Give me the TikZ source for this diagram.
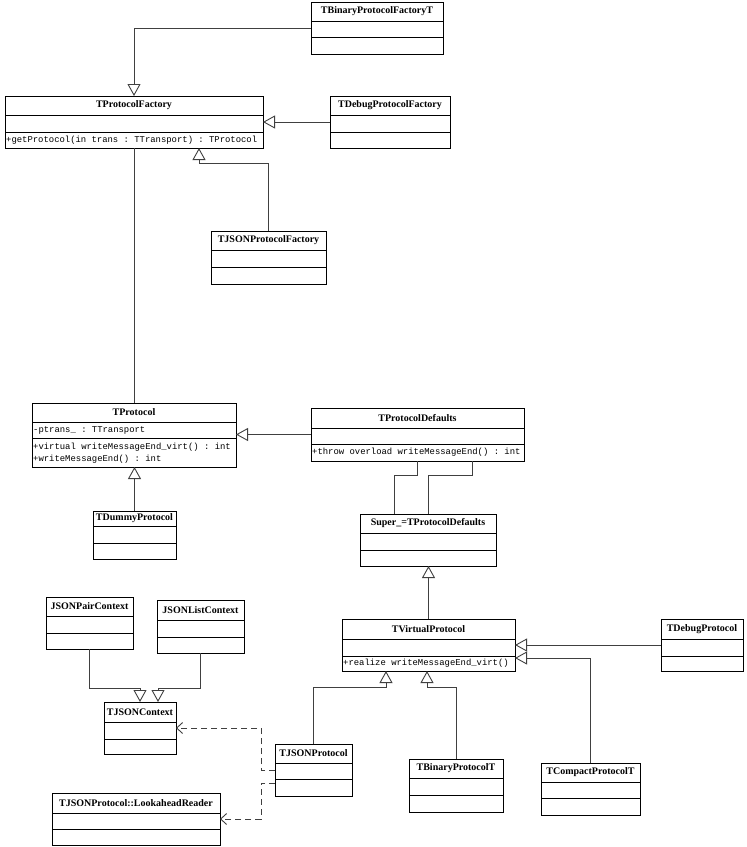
\documentclass[tikz,border=0pt]{standalone}
\usepackage{fontspec}
\setmainfont{Liberation Serif}
\setmonofont{Liberation Mono}
\usetikzlibrary{arrows.meta}

% osztaly doboz: nev, x1, y1, x2, y2, 1. vonal, 2. vonal, cim
\newcommand{\umlclass}[8]{%
	\node[classbox, minimum width={(#4-#2)*1pt}, minimum height={(#5-#3)*1pt}, anchor=north west] (#1) at (#2,#3) {};
	\draw[line width=0.9pt] (#2,#6) -- (#4,#6) (#2,#7) -- (#4,#7);
	\node[classname] (#1-name) at ({(#2+#4)/2},{(#3+#6)/2}) {#8};
}

\begin{document}
\begin{tikzpicture}[x=1pt, y=-1pt,
		classbox/.style={draw, line width=0.9pt, inner sep=0pt, outer sep=0pt},
		classname/.style={font=\bfseries\fontsize{10}{12}\selectfont, inner sep=0pt},
		member/.style={font=\ttfamily\fontsize{8.9}{12}\selectfont, inner sep=0pt, anchor=west, align=left},
		link/.style={draw=black!75, line width=0.9pt},
		gen/.style={link, -{Triangle[open, length=12pt, width=13pt, fill=white]}},
		dep/.style={link, dash pattern=on 6pt off 4pt, -{Straight Barb[length=6pt, width=11pt]}}]
				\useasboundingbox (0,0) rectangle (747,847);
				
				% gyarak
				\umlclass{bpft}{311}{2}{443}{54}{21}{37}{TBinaryProtocolFactoryT}
				\umlclass{pfact}{5}{96}{263}{148}{115}{132}{TProtocolFactory}
				\umlclass{dpfact}{330}{96}{450}{148}{115}{132}{TDebugProtocolFactory}
				\umlclass{jpfact}{211}{231}{326}{284}{250}{267}{TJSONProtocolFactory}
				\node[member] (pfact-op) at (6,140) {+getProtocol(in trans : TTransport) : TProtocol};
				
				% protokollok
				\umlclass{proto}{32}{403}{236}{467}{422}{438}{TProtocol}
				\umlclass{defs}{311}{408}{524}{461}{428}{444}{TProtocolDefaults}
				\umlclass{dummy}{93}{511}{176}{559}{526}{543}{TDummyProtocol}
				\umlclass{super}{360}{514}{496}{566}{533}{550}{Super\_=TProtocolDefaults}
				\umlclass{virt}{342}{619}{515}{671}{639}{656}{TVirtualProtocol}
				\umlclass{dbgp}{661}{619}{743}{671}{639}{656}{TDebugProtocol}
				\umlclass{jsonp}{275}{744}{352}{796}{763}{779}{TJSONProtocol}
				\umlclass{binp}{409}{759}{503}{812}{778}{795}{TBinaryProtocolT}
				\umlclass{compp}{541}{763}{640}{815}{782}{798}{TCompactProtocolT}
				\node[member] (proto-attr) at (33,430) {-ptrans\_ : TTransport};
				\node[member] (proto-op) at (33,453) {+virtual writeMessageEnd\_virt() : int\\+writeMessageEnd() : int};
				\node[member] (defs-op) at (312,452.5) {+throw overload writeMessageEnd() : int};
				\node[member] (virt-op) at (343,663.5) {+realize writeMessageEnd\_virt()};
				
				% json kontextus
				\umlclass{pairc}{46}{597}{133}{649}{616}{633}{JSONPairContext}
				\umlclass{listc}{157}{600}{244}{653}{620}{637}{JSONListContext}
				\umlclass{jctx}{104}{702}{176}{754}{722}{739}{TJSONContext}
				\umlclass{lookr}{52}{793}{220}{845}{813}{829}{TJSONProtocol::LookaheadReader}
				
				% oroklodes
				\draw[gen] (bpft.west) -| (pfact.north);
				\draw[gen] (dpfact.west) -- (pfact.east);
				\draw[gen] (jpfact.north) |- (199,163) -- (pfact.south -| 199,0);
				\draw[gen] (defs.west) -- (defs.west -| proto.east);
				\draw[gen] (dummy.north) -- (dummy.north |- proto.south);
				\draw[gen] (virt.north) -- (virt.north |- super.south);
				\draw[gen] (dbgp.west) -- (dbgp.west -| virt.east);
				\draw[gen] (compp.north) |- ([yshift=-13pt]virt.east);
				\draw[gen] (jsonp.north) |- (386,687) -- (virt.south -| 386,0);
				\draw[gen] (binp.north) |- (427,687) -- (virt.south -| 427,0);
				\draw[gen] (pairc.south) |- (140,688) -- (jctx.north);
				\draw[gen] (listc.south) |- (158,688) -- (jctx.north -| 158,0);
				
				% egyszeru vonalak
				\draw[link] (pfact.south) -- (proto.north);
				\draw[link] (defs.south) |- (394,475) -- (super.north -| 394,0);
				\draw[link] (defs.south -| 472,0) -- (472,475) -| (super.north);
				
				% fuggosegek
				\draw[dep] (jsonp.west) -- (261,770) |- (jctx.east);
				\draw[dep] ([yshift=-13pt]jsonp.west) -- (261,783) |- (lookr.east);
				
			\end{tikzpicture}
\end{document}
